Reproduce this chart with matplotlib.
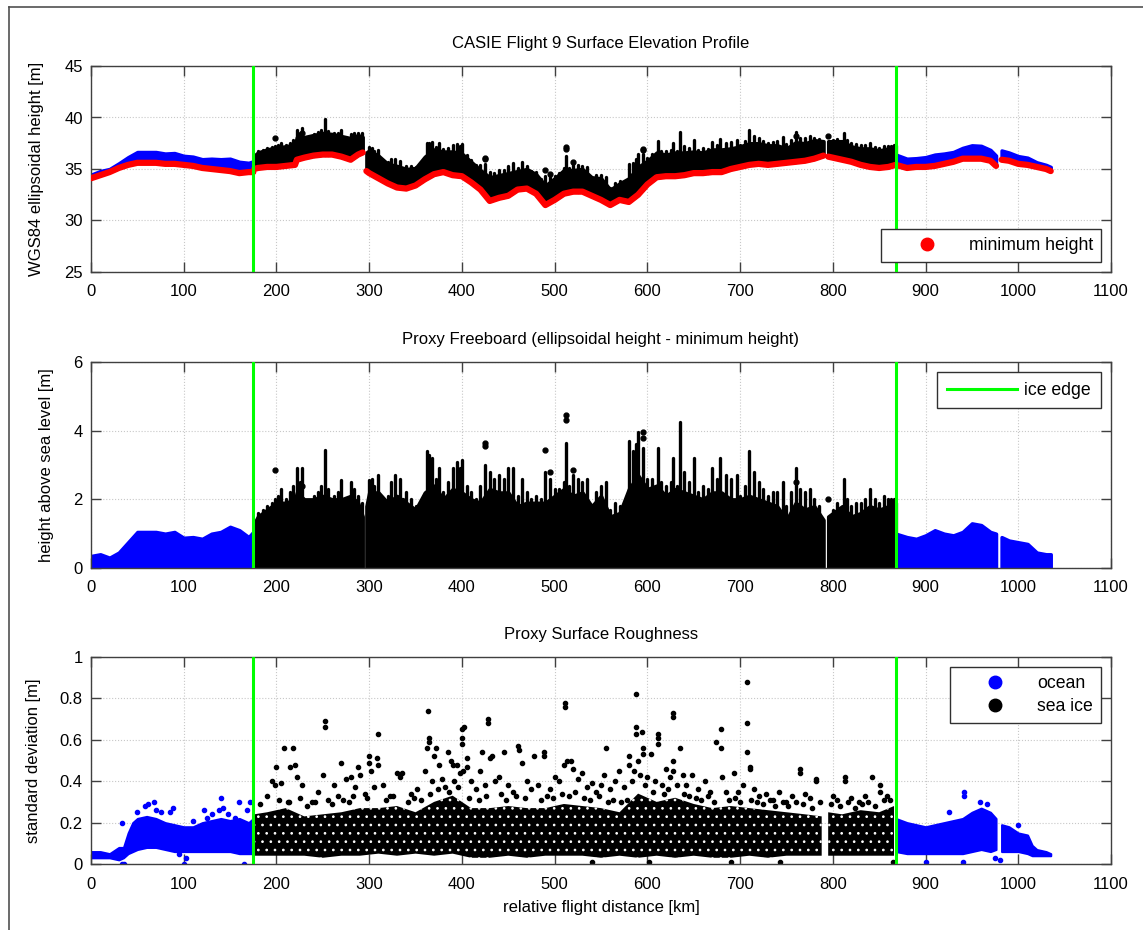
import numpy as np
import matplotlib.pyplot as plt
from matplotlib.lines import Line2D
from matplotlib.ticker import FormatStrFormatter

plt.rcParams['font.family'] = ['Liberation Sans', 'DejaVu Sans']
plt.rcParams['font.size'] = 12
plt.rcParams['hatch.linewidth'] = 0.7

# ice edge positions [km]
ice_edges = [175, 868]

# ---- minimum height (red) and ocean freeboard, per segment ----
ow_x = [0, 10, 20, 30, 40, 50, 60, 70, 80, 90, 100, 110, 120, 130, 140, 150, 160, 170, 175]
ow_min = [34.1, 34.4, 34.7, 35.1, 35.4, 35.6, 35.6, 35.6, 35.5, 35.5, 35.4, 35.3, 35.1, 35.0,
          34.9, 34.8, 34.6, 34.7, 34.7]
ow_fb = [0.35, 0.4, 0.3, 0.45, 0.75, 1.05, 1.05, 1.05, 1.0, 1.05, 0.88, 0.9, 0.85, 1.0, 1.05,
         1.2, 1.1, 0.9, 1.05]

i1_x = [176, 180, 190, 200, 210, 220, 222, 230, 240, 250, 260, 270, 280, 288, 293]
i1_min = [35.0, 35.1, 35.2, 35.2, 35.3, 35.4, 35.9, 36.1, 36.3, 36.4, 36.4, 36.2, 35.9, 36.4, 36.6]
i1_fb = [1.3, 1.5, 1.7, 1.9, 1.9, 2.0, 2.2, 2.0, 2.0, 2.1, 2.0, 2.0, 2.1, 1.9, 1.5]

i2_x = [297, 300, 310, 320, 330, 340, 350, 360, 370, 380, 390, 400, 410, 420, 430, 440, 450,
        460, 470, 480, 490, 500, 510, 520, 530, 540, 550, 560, 570, 580, 590, 600, 610, 620,
        630, 640, 650, 660, 670, 680, 690, 700, 710, 720, 730, 740, 750, 760, 770, 780, 790]
i2_min = [34.8, 34.6, 34.1, 33.6, 33.2, 33.1, 33.4, 34.0, 34.5, 34.7, 34.4, 34.3, 33.7, 33.0,
          31.9, 32.2, 32.4, 33.0, 33.1, 32.6, 31.5, 32.0, 32.6, 32.8, 32.8, 32.4, 32.0, 31.5,
          32.0, 31.8, 32.5, 33.5, 34.2, 34.3, 34.3, 34.4, 34.6, 34.6, 34.7, 34.7, 35.0, 35.2,
          35.4, 35.5, 35.4, 35.5, 35.6, 35.7, 35.8, 36.0, 36.3]
i2_fb = [1.8, 2.2, 2.2, 1.9, 2.1, 1.9, 1.7, 2.2, 2.4, 2.0, 2.3, 2.2, 2.0, 1.9, 2.3, 2.2, 2.2,
         1.8, 1.9, 1.9, 1.9, 2.1, 2.3, 2.1, 2.2, 1.8, 2.1, 1.5, 1.6, 2.3, 2.7, 2.3, 2.4, 2.1,
         2.3, 2.2, 2.1, 2.0, 2.2, 2.2, 2.0, 2.0, 2.1, 2.0, 1.9, 1.8, 1.4, 1.9, 1.7, 1.8, 1.4]

i3_x = [795, 800, 810, 820, 830, 840, 850, 860, 868]
i3_min = [36.2, 36.1, 35.9, 35.7, 35.4, 35.2, 35.1, 35.2, 35.4]
i3_fb = [1.5, 1.6, 1.8, 1.5, 1.6, 1.8, 1.7, 1.8, 1.9]

oe1_x = [868, 880, 890, 900, 910, 920, 930, 940, 950, 960, 970, 976]
oe1_min = [35.4, 35.1, 35.2, 35.2, 35.3, 35.5, 35.7, 36.0, 36.0, 36.0, 35.8, 35.3]
oe1_fb = [1.0, 0.9, 0.85, 0.95, 1.1, 1.0, 0.95, 1.05, 1.3, 1.25, 1.05, 1.0]

oe2_x = [982, 990, 1000, 1010, 1020, 1030, 1035]
oe2_min = [35.9, 35.8, 35.5, 35.4, 35.2, 35.0, 34.8]
oe2_fb = [0.9, 0.8, 0.75, 0.7, 0.45, 0.4, 0.4]

# ---- sea ice freeboard spikes and isolated points ----
spike_x = [180, 190, 198, 205, 215, 222, 228, 235, 245, 252, 262, 270, 280, 288, 300, 305, 310,
           328, 340, 362, 368, 375, 385, 395, 400, 415, 425, 430, 440, 450, 465, 475, 490, 505,
           512, 520, 530, 550, 555, 580, 585, 590, 595, 600, 611, 620, 628, 635, 640, 650, 670,
           678, 685, 697, 710, 715, 725, 746, 760, 770, 780, 805, 812, 840, 850, 860, 866,
           185, 195, 202, 210, 218, 225, 232, 240, 248, 256, 266, 275, 284, 292, 303, 315, 320,
           324, 333, 336, 345, 350, 356, 365, 372, 380, 390, 398, 405, 410, 420, 435, 445, 455,
           460, 470, 480, 485, 495, 500, 510, 515, 525, 535, 545, 560, 565, 570, 575, 588, 605,
           615, 625, 632, 645, 655, 660, 665, 675, 690, 700, 705, 720, 730, 735, 740, 750, 755,
           765, 775, 785, 800, 815, 820, 825, 830, 835, 845, 855, 863]
spike_fb = [1.6, 1.8, 2.0, 2.3, 2.2, 2.9, 2.9, 1.7, 2.2, 3.45, 2.1, 2.55, 2.5, 2.1, 2.55, 2.4,
            2.7, 2.7, 2.2, 3.4, 3.2, 2.9, 2.5, 3.1, 3.15, 2.0, 3.0, 2.8, 2.7, 2.9, 2.6, 2.0, 2.8,
            2.3, 3.65, 2.7, 2.5, 2.4, 2.5, 3.7, 3.4, 3.95, 3.5, 2.6, 3.5, 2.4, 3.2, 4.25, 2.8,
            3.2, 2.9, 3.2, 2.7, 2.7, 3.4, 2.8, 2.3, 2.5, 2.9, 2.2, 2.0, 1.9, 2.6, 2.3, 1.9, 2.0,
            2.0,
            1.7, 1.9, 2.1, 2.0, 2.4, 2.5, 1.8, 2.1, 2.4, 2.3, 2.2, 2.0, 2.3, 1.9, 2.6, 2.0, 2.1,
            2.5, 2.6, 2.0, 2.0, 1.8, 1.8, 3.3, 2.6, 2.2, 2.9, 2.9, 2.4, 2.2, 2.4, 2.6, 2.6, 2.9,
            2.1, 2.2, 2.1, 2.0, 2.6, 2.3, 2.5, 2.4, 2.6, 2.6, 2.2, 1.7, 1.9, 1.8, 1.6, 3.6, 2.6,
            2.5, 2.5, 2.4, 2.5, 2.2, 2.4, 2.3, 2.6, 2.6, 2.1, 2.4, 2.5, 2.1, 2.2, 2.2, 1.8, 2.2,
            2.3, 2.3, 1.8, 1.7, 2.0, 1.8, 1.9, 1.9, 2.0, 2.0, 2.1, 2.0]
dot_x = [198, 228, 425, 425, 490, 495, 512, 512, 595, 595, 760, 795, 520]
dot_fb = [2.85, 2.4, 3.65, 3.55, 3.45, 2.8, 4.45, 4.3, 3.8, 3.95, 2.5, 2.0, 2.85]

# ---- roughness: dense core (low/high) and scattered points ----
rw_x = [0, 10, 20, 30, 35, 40, 45, 50, 60, 70, 80, 90, 100, 110, 120, 130, 140, 150, 160, 170, 175]
rw_lo = [0.03, 0.03, 0.03, 0.02, 0.03, 0.05, 0.06, 0.07, 0.08, 0.08, 0.07, 0.06, 0.06, 0.06,
         0.06, 0.06, 0.06, 0.06, 0.05, 0.05, 0.05]
rw_hi = [0.06, 0.06, 0.05, 0.08, 0.08, 0.15, 0.2, 0.22, 0.23, 0.22, 0.2, 0.19, 0.18, 0.18, 0.2,
         0.21, 0.22, 0.21, 0.22, 0.2, 0.22]

ri1_x = [176, 190, 210, 230, 250, 270, 290, 310, 330, 350, 370, 390, 410, 430, 450, 470, 490,
         510, 530, 550, 570, 590, 610, 630, 650, 670, 690, 710, 730, 750, 770, 788]
ri1_lo = [0.04, 0.04, 0.04, 0.04, 0.03, 0.04, 0.04, 0.05, 0.04, 0.05, 0.04, 0.05, 0.03, 0.03,
          0.04, 0.03, 0.04, 0.04, 0.04, 0.03, 0.04, 0.03, 0.04, 0.03, 0.04, 0.03, 0.03, 0.04,
          0.03, 0.04, 0.04, 0.04]
ri1_hi = [0.24, 0.25, 0.27, 0.23, 0.24, 0.25, 0.27, 0.27, 0.28, 0.25, 0.30, 0.33, 0.27, 0.27,
          0.28, 0.27, 0.27, 0.29, 0.28, 0.27, 0.25, 0.34, 0.30, 0.32, 0.29, 0.27, 0.28, 0.27,
          0.26, 0.25, 0.24, 0.23]
ri2_x = [795, 810, 830, 850, 866]
ri2_lo = [0.04, 0.04, 0.04, 0.04, 0.04]
ri2_hi = [0.25, 0.24, 0.26, 0.25, 0.28]

re1_x = [868, 880, 900, 920, 940, 950, 960, 970, 976]
re1_lo = [0.06, 0.05, 0.05, 0.05, 0.05, 0.06, 0.07, 0.06, 0.07]
re1_hi = [0.22, 0.20, 0.18, 0.20, 0.22, 0.25, 0.27, 0.25, 0.22]
re2_x = [982, 990, 1000, 1010, 1015, 1020, 1030, 1035]
re2_lo = [0.06, 0.06, 0.06, 0.05, 0.04, 0.04, 0.04, 0.04]
re2_hi = [0.19, 0.18, 0.15, 0.14, 0.09, 0.07, 0.06, 0.05]

ocean_pts_x = [33, 36, 33, 50, 58, 62, 68, 70, 75, 85, 88, 100, 102, 95, 110, 122, 125, 130, 138,
               140, 142, 148, 155, 160, 165, 168, 172, 900, 925, 940, 941, 942, 959, 966, 980,
               1000, 975]
ocean_pts_y = [0.2, 0.0, 0.0, 0.25, 0.28, 0.29, 0.3, 0.26, 0.25, 0.25, 0.27, 0.0, 0.03, 0.05,
               0.21, 0.26, 0.22, 0.24, 0.26, 0.32, 0.27, 0.24, 0.22, 0.3, 0.0, 0.26, 0.3, 0.01,
               0.25, 0.01, 0.35, 0.33, 0.3, 0.29, 0.02, 0.19, 0.03]

ice_pts_x = [190, 195, 198, 200, 205, 208, 212, 215, 218, 220, 222, 225, 228, 238, 245, 250, 252,
             252, 256, 262, 266, 270, 275, 280, 283, 285, 288, 290, 295, 300, 300, 302, 305, 308,
             310, 310, 315, 322, 330, 333, 335, 345, 352, 360, 363, 364, 362, 364, 368, 370, 372,
             375, 378, 382, 385, 388, 390, 392, 395, 398, 400, 402, 400, 400, 401, 405, 405, 410,
             415, 420, 422, 425, 428, 428, 430, 432, 436, 440, 445, 450, 455, 460, 462, 465, 470,
             475, 478, 482, 488, 489, 495, 500, 505, 510, 511, 511, 513, 518, 520, 525, 529, 535,
             540, 545, 550, 553, 555, 560, 565, 569, 575, 580, 580, 583, 586, 588, 588, 588, 590,
             592, 594, 595, 595, 600, 604, 608, 612, 612, 612, 616, 620, 624, 628, 628, 628, 628,
             632, 635, 638, 642, 648, 655, 662, 668, 674, 679, 679, 680, 685, 693, 698, 703, 707,
             707, 707, 711, 711, 715, 720, 728, 735, 742, 750, 756, 765, 765, 770, 775, 782, 782,
             786, 800, 805, 813, 813, 820, 828, 835, 842, 851, 851, 858, 862, 540, 602, 690, 743,
             865,
             182, 203, 214, 233, 242, 260, 272, 278, 298, 318, 326, 342, 348, 356, 366, 374, 386,
             396, 408, 418, 426, 442, 448, 458, 468, 485, 492, 498, 508, 516, 522, 532, 538, 548,
             558, 563, 572, 578, 597, 606, 618, 622, 640, 645, 652, 658, 665, 672, 688, 695, 700,
             712, 718, 725, 732, 738, 746, 752, 760, 768, 778, 798, 808, 816, 824, 832, 838, 846,
             855]
ice_pts_y = [0.33, 0.40, 0.38, 0.47, 0.39, 0.56, 0.30, 0.47, 0.56, 0.48, 0.42, 0.32, 0.38, 0.30,
             0.35, 0.43, 0.66, 0.69, 0.31, 0.38, 0.33, 0.49, 0.41, 0.42, 0.33, 0.37, 0.47, 0.43,
             0.34, 0.52, 0.49, 0.45, 0.37, 0.51, 0.63, 0.48, 0.38, 0.33, 0.44, 0.42, 0.44, 0.34,
             0.36, 0.45, 0.74, 0.61, 0.56, 0.59, 0.40, 0.52, 0.56, 0.48, 0.41, 0.37, 0.54, 0.50,
             0.48, 0.40, 0.48, 0.44, 0.65, 0.66, 0.61, 0.58, 0.45, 0.51, 0.47, 0.40, 0.36, 0.45,
             0.54, 0.38, 0.70, 0.68, 0.51, 0.52, 0.40, 0.42, 0.54, 0.38, 0.35, 0.57, 0.55, 0.49,
             0.40, 0.36, 0.52, 0.38, 0.54, 0.52, 0.36, 0.42, 0.40, 0.48, 0.78, 0.76, 0.50, 0.50,
             0.46, 0.41, 0.44, 0.37, 0.39, 0.35, 0.38, 0.43, 0.56, 0.36, 0.40, 0.45, 0.37, 0.52,
             0.48, 0.40, 0.45, 0.82, 0.66, 0.63, 0.50, 0.43, 0.64, 0.56, 0.53, 0.42, 0.53, 0.40,
             0.63, 0.61, 0.58, 0.38, 0.46, 0.42, 0.73, 0.71, 0.50, 0.45, 0.38, 0.56, 0.43, 0.38,
             0.43, 0.36, 0.40, 0.35, 0.59, 0.65, 0.56, 0.42, 0.35, 0.44, 0.35, 0.38, 0.88, 0.68,
             0.54, 0.47, 0.46, 0.36, 0.33, 0.34, 0.31, 0.35, 0.30, 0.33, 0.46, 0.44, 0.34, 0.32,
             0.41, 0.40, 0.30, 0.33, 0.31, 0.42, 0.40, 0.32, 0.30, 0.33, 0.42, 0.38, 0.35, 0.33,
             0.31, 0.01, 0.01, 0.01, 0.01, 0.01,
             0.29, 0.31, 0.30, 0.28, 0.30, 0.29, 0.31, 0.30, 0.32, 0.31, 0.33, 0.30, 0.32, 0.31,
             0.34, 0.36, 0.35, 0.37, 0.32, 0.31, 0.33, 0.34, 0.31, 0.33, 0.32, 0.31, 0.33, 0.32,
             0.34, 0.33, 0.35, 0.32, 0.31, 0.33, 0.30, 0.31, 0.30, 0.31, 0.38, 0.35, 0.34, 0.36,
             0.34, 0.33, 0.32, 0.31, 0.33, 0.30, 0.31, 0.32, 0.30, 0.31, 0.30, 0.29, 0.31, 0.28,
             0.30, 0.28, 0.30, 0.29, 0.27, 0.29, 0.28, 0.30, 0.27, 0.29, 0.30, 0.28, 0.31]

BLUE, RED, BLACK, GREEN = (0, 0, 1), (1, 0, 0), (0, 0, 0), (0, 1, 0)

fig = plt.figure(figsize=(11.43, 9.30), dpi=100)
W, H = 1143, 930
def axes_at(top_px, bot_px):
    return fig.add_axes([91 / W, 1 - bot_px / H, 1020 / W, (bot_px - top_px) / H])

ax1 = axes_at(66, 272)
ax2 = axes_at(362, 568)
ax3 = axes_at(657, 864)

ocean_segs = [(ow_x, ow_min, ow_fb), (oe1_x, oe1_min, oe1_fb), (oe2_x, oe2_min, oe2_fb)]
ice_segs = [(i1_x, i1_min, i1_fb), (i2_x, i2_min, i2_fb), (i3_x, i3_min, i3_fb)]
all_ice_x = i1_x + i2_x + i3_x
all_ice_min = i1_min + i2_min + i3_min

# ---- panel 1: surface elevation ----
for segs, col in [(ocean_segs, BLUE), (ice_segs, BLACK)]:
    for x, mn, fb in segs:
        top = np.array(mn) + np.array(fb)
        ax1.fill_between(x, mn, top, color=col, lw=2.5, edgecolor=col, zorder=2)
spk_base = np.interp(spike_x, all_ice_x, all_ice_min)
ax1.vlines(spike_x, spk_base, spk_base + np.array(spike_fb), color=BLACK, lw=2.4,
           capstyle='round', zorder=2)
dot_base = np.interp(dot_x, all_ice_x, all_ice_min)
ax1.plot(dot_x, dot_base + np.array(dot_fb), 'o', color=BLACK, ms=3.5, zorder=2)
for segs in (ocean_segs, ice_segs):
    for x, mn, fb in segs:
        ax1.plot(x, mn, color=RED, lw=4.5, solid_capstyle='round', zorder=3)

ax1.set_ylim(25, 45)
ax1.set_yticks([25, 30, 35, 40, 45])
ax1.set_title('CASIE Flight 9 Surface Elevation Profile', fontsize=12, pad=13)
ax1.set_ylabel('WGS84 ellipsoidal height [m]', fontsize=12)
ax1.yaxis.set_label_coords(-0.046, 0.5)
ax1.legend(handles=[Line2D([], [], marker='o', ls='', color=RED, ms=9)],
           labels=['minimum height'], loc='lower right', bbox_to_anchor=(0.990, 0.048),
           borderaxespad=0, fancybox=False, edgecolor='#303030', framealpha=1,
           handlelength=4.3, handletextpad=0.2, borderpad=0.45, fontsize=12.7)

# ---- panel 2: freeboard ----
for segs, col in [(ocean_segs, BLUE), (ice_segs, BLACK)]:
    for x, mn, fb in segs:
        ax2.fill_between(x, 0, fb, color=col, lw=2.5, edgecolor=col, zorder=2)
ax2.vlines(spike_x, 0, spike_fb, color=BLACK, lw=2.4, capstyle='round', zorder=2)
ax2.plot(dot_x, dot_fb, 'o', color=BLACK, ms=3.5, zorder=2)
ax2.set_ylim(0, 6)
ax2.set_yticks([0, 2, 4, 6])
ax2.set_title('Proxy Freeboard (ellipsoidal height - minimum height)', fontsize=12, pad=13)
ax2.set_ylabel('height above sea level [m]', fontsize=12)
ax2.yaxis.set_label_coords(-0.036, 0.5)
ax2.legend(handles=[Line2D([], [], color=GREEN, lw=2.2)], labels=['ice edge'],
           loc='upper right', bbox_to_anchor=(0.990, 0.951), borderaxespad=0,
           fancybox=False, edgecolor='#303030', framealpha=1,
           handlelength=4.0, handletextpad=0.4, borderpad=0.55, fontsize=12.7)

# ---- panel 3: roughness ----
for x, lo, hi in [(rw_x, rw_lo, rw_hi), (re1_x, re1_lo, re1_hi), (re2_x, re2_lo, re2_hi)]:
    ax3.fill_between(x, lo, hi, color=BLUE, lw=1.5, edgecolor=BLUE, zorder=2)
for x, lo, hi in [(ri1_x, ri1_lo, ri1_hi), (ri2_x, ri2_lo, ri2_hi)]:
    ax3.fill_between(x, lo, hi, facecolor=BLACK, edgecolor='white', lw=0, hatch='..', zorder=2)
ax3.plot(ocean_pts_x, ocean_pts_y, 'o', color=BLUE, ms=3, zorder=2)
ax3.plot(ice_pts_x, ice_pts_y, 'o', color=BLACK, ms=3, zorder=2)
ax3.set_ylim(0, 1)
ax3.set_yticks([0, 0.2, 0.4, 0.6, 0.8, 1])
ax3.set_title('Proxy Surface Roughness', fontsize=12, pad=13)
ax3.set_ylabel('standard deviation [m]', fontsize=12)
ax3.yaxis.set_label_coords(-0.049, 0.5)
ax3.set_xlabel('relative flight distance [km]', fontsize=12, labelpad=6)
ax3.legend(handles=[Line2D([], [], marker='o', ls='', color=BLUE, ms=9),
                    Line2D([], [], marker='o', ls='', color=BLACK, ms=9)],
           labels=['ocean', 'sea ice'], loc='upper right', bbox_to_anchor=(0.990, 0.951),
           borderaxespad=0, fancybox=False, edgecolor='#303030', framealpha=1,
           handlelength=4.2, handletextpad=0.3, borderpad=0.45, labelspacing=0.35,
           fontsize=12.7)

for ax in (ax1, ax2, ax3):
    for xe in ice_edges:
        ax.axvline(xe, color=GREEN, lw=2.2, zorder=5)
    ax.set_xlim(0, 1100)
    ax.set_xticks(range(0, 1101, 100))
    ax.yaxis.set_major_formatter(FormatStrFormatter('%g'))
    ax.grid(True, color='#c8c8c8', ls=':', lw=0.8)
    ax.set_axisbelow(True)
    ax.tick_params(direction='in', length=7, width=1, top=True, right=True,
                   color='#404040', labelsize=12)
    ax.tick_params(axis='x', pad=9)
    ax.tick_params(axis='y', pad=6)
    for s in ax.spines.values():
        s.set_color('#404040')
        s.set_linewidth(1)

# outer frame lines (left and top)
fig.add_artist(Line2D([9 / W, 9 / W], [0, 1 - 7 / H], transform=fig.transFigure,
                      color='#505050', lw=1.2))
fig.add_artist(Line2D([9 / W, 1], [1 - 7 / H, 1 - 7 / H], transform=fig.transFigure,
                      color='#505050', lw=1.2))

fig.savefig('out.png', dpi=100)
